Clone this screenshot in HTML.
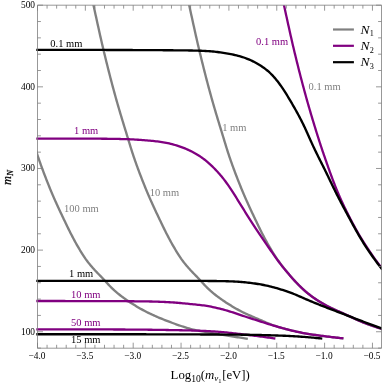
<!DOCTYPE html>
<html><head><meta charset="utf-8"><title>plot</title>
<style>html,body{margin:0;padding:0;background:#fff;}body{width:382px;height:384px;position:relative;overflow:hidden;font-family:"Liberation Serif",serif;}</style></head>
<body>
<svg width="382" height="384" viewBox="0 0 382 384" style="position:absolute;left:0;top:0;will-change:transform">
<defs><clipPath id="c"><rect x="36.30" y="5.20" width="346.00" height="343.00"/></clipPath></defs>
<defs><clipPath id="cg"><rect x="37.20" y="5.20" width="346.00" height="343.00"/></clipPath></defs>
<g fill="none" stroke-linecap="butt" stroke-linejoin="round">
<path clip-path="url(#cg)" d="M-5.60 -10.00 L-5.23 -8.33 L-4.90 -6.81 L-4.58 -5.37 L-4.27 -3.97 L-3.96 -2.56 L-3.64 -1.15 L-3.32 0.28 L-3.00 1.73 L-2.68 3.19 L-2.36 4.65 L-2.03 6.11 L-1.71 7.57 L-1.39 9.04 L-1.06 10.50 L-0.74 11.97 L-0.42 13.43 L-0.10 14.90 L0.22 16.37 L0.55 17.83 L0.87 19.30 L1.19 20.76 L1.51 22.23 L1.83 23.69 L2.16 25.16 L2.48 26.62 L2.80 28.09 L3.13 29.55 L3.45 31.02 L3.78 32.48 L4.11 33.94 L4.43 35.41 L4.76 36.87 L5.10 38.33 L5.43 39.80 L5.77 41.26 L6.10 42.72 L6.44 44.18 L6.78 45.64 L7.12 47.10 L7.47 48.56 L7.82 50.02 L8.16 51.48 L8.51 52.94 L8.87 54.39 L9.22 55.85 L9.57 57.31 L9.93 58.77 L10.29 60.22 L10.65 61.68 L11.01 63.14 L11.37 64.59 L11.74 66.05 L12.10 67.50 L12.47 68.96 L12.84 70.41 L13.21 71.87 L13.58 73.32 L13.95 74.77 L14.33 76.23 L14.70 77.68 L15.08 79.13 L15.46 80.58 L15.84 82.03 L16.23 83.48 L16.61 84.93 L17.00 86.38 L17.38 87.83 L17.78 89.28 L18.17 90.73 L18.56 92.17 L18.96 93.62 L19.36 95.06 L19.76 96.51 L20.16 97.95 L20.56 99.40 L20.97 100.84 L21.38 102.28 L21.80 103.72 L22.21 105.16 L22.63 106.60 L23.05 108.04 L23.48 109.48 L23.90 110.92 L24.33 112.36 L24.76 113.80 L25.19 115.23 L25.62 116.67 L26.05 118.11 L26.49 119.54 L26.92 120.98 L27.36 122.41 L27.80 123.85 L28.24 125.28 L28.67 126.72 L29.11 128.15 L29.55 129.59 L29.99 131.02 L30.43 132.46 L30.87 133.89 L31.31 135.33 L31.75 136.76 L32.19 138.20 L32.63 139.63 L33.06 141.07 L33.50 142.50 L33.94 143.94 L34.38 145.37 L34.82 146.80 L35.27 148.24 L35.71 149.67 L36.17 151.10 L36.63 152.52 L37.09 153.95 L37.56 155.37 L38.04 156.79 L38.52 158.21 L39.01 159.63 L39.51 161.05 L40.00 162.46 L40.51 163.87 L41.01 165.29 L41.53 166.70 L42.04 168.11 L42.56 169.51 L43.09 170.92 L43.61 172.33 L44.14 173.73 L44.68 175.13 L45.22 176.53 L45.76 177.93 L46.30 179.33 L46.85 180.73 L47.41 182.13 L47.96 183.52 L48.52 184.91 L49.08 186.30 L49.65 187.69 L50.22 189.08 L50.79 190.46 L51.37 191.85 L51.95 193.23 L52.53 194.61 L53.13 195.98 L53.72 197.36 L54.32 198.73 L54.93 200.11 L55.54 201.47 L56.16 202.84 L56.78 204.21 L57.40 205.57 L58.03 206.94 L58.66 208.30 L59.30 209.66 L59.93 211.02 L60.57 212.38 L61.21 213.73 L61.85 215.09 L62.49 216.45 L63.14 217.80 L63.78 219.16 L64.43 220.51 L65.07 221.87 L65.72 223.22 L66.37 224.57 L67.03 225.93 L67.68 227.28 L68.34 228.63 L69.01 229.97 L69.68 231.32 L70.35 232.66 L71.03 233.99 L71.72 235.33 L72.41 236.66 L73.11 237.98 L73.81 239.30 L74.53 240.62 L75.25 241.94 L75.98 243.25 L76.71 244.55 L77.46 245.86 L78.21 247.16 L78.97 248.46 L79.73 249.75 L80.51 251.04 L81.30 252.32 L82.09 253.60 L82.90 254.86 L83.72 256.12 L84.56 257.36 L85.40 258.60 L86.27 259.82 L87.15 261.02 L88.05 262.22 L88.97 263.39 L89.91 264.56 L90.87 265.71 L91.84 266.84 L92.83 267.97 L93.84 269.08 L94.85 270.19 L95.88 271.28 L96.92 272.37 L97.96 273.45 L99.00 274.53 L100.05 275.60 L101.10 276.68 L102.14 277.76 L103.18 278.84 L104.20 279.93 L105.23 281.03 L106.24 282.13 L107.25 283.24 L108.27 284.34 L109.29 285.44 L110.32 286.52 L111.37 287.59 L112.43 288.63 L113.52 289.66 L114.62 290.67 L115.75 291.66 L116.89 292.63 L118.05 293.58 L119.22 294.52 L120.41 295.45 L121.60 296.36 L122.81 297.25 L124.02 298.14 L125.24 299.01 L126.47 299.88 L127.71 300.73 L128.95 301.57 L130.19 302.40 L131.45 303.22 L132.71 304.03 L133.98 304.83 L135.26 305.62 L136.55 306.40 L137.84 307.17 L139.14 307.93 L140.44 308.67 L141.75 309.40 L143.07 310.12 L144.39 310.82 L145.72 311.51 L147.05 312.19 L148.40 312.86 L149.74 313.51 L151.10 314.15 L152.46 314.78 L153.82 315.41 L155.19 316.02 L156.57 316.62 L157.95 317.21 L159.33 317.80 L160.72 318.38 L162.11 318.95 L163.50 319.51 L164.89 320.07 L166.29 320.61 L167.69 321.16 L169.09 321.69 L170.49 322.22 L171.90 322.75 L173.30 323.26 L174.71 323.77 L176.13 324.28 L177.54 324.78 L178.96 325.27 L180.38 325.76 L181.80 326.24 L183.22 326.71 L184.65 327.18 L186.08 327.64 L187.51 328.08 L188.95 328.50 L190.39 328.91 L191.83 329.29 L193.28 329.65 L194.74 329.99 L196.20 330.30 L197.67 330.60 L199.14 330.88 L200.61 331.16 L202.09 331.41 L203.57 331.67 L205.05 331.91 L206.53 332.15 L208.02 332.39 L209.50 332.62 L210.99 332.85 L212.47 333.09 L213.95 333.32 L215.44 333.56 L216.92 333.80 L218.40 334.05 L219.88 334.29 L221.36 334.53 L222.84 334.78 L224.32 335.03 L225.80 335.27 L227.28 335.52 L228.76 335.77 L230.24 336.01 L231.72 336.26 L233.20 336.50 L234.68 336.74 L236.15 336.99 L237.62 337.23 L239.07 337.46 L240.50 337.70 L241.92 337.93 L243.33 338.16 L244.75 338.39 L246.22 338.63 L247.82 338.89" stroke="#808080" stroke-width="2.35"/>
<path clip-path="url(#cg)" d="M90.10 -10.00 L90.47 -8.33 L90.80 -6.81 L91.12 -5.37 L91.43 -3.97 L91.74 -2.56 L92.06 -1.15 L92.38 0.28 L92.70 1.73 L93.02 3.19 L93.34 4.65 L93.67 6.11 L93.99 7.57 L94.31 9.04 L94.64 10.50 L94.96 11.97 L95.28 13.43 L95.60 14.90 L95.92 16.37 L96.25 17.83 L96.57 19.30 L96.89 20.76 L97.21 22.23 L97.53 23.69 L97.86 25.16 L98.18 26.62 L98.50 28.09 L98.83 29.55 L99.15 31.02 L99.48 32.48 L99.81 33.94 L100.13 35.41 L100.46 36.87 L100.80 38.33 L101.13 39.80 L101.47 41.26 L101.80 42.72 L102.14 44.18 L102.48 45.64 L102.82 47.10 L103.17 48.56 L103.52 50.02 L103.86 51.48 L104.21 52.94 L104.57 54.39 L104.92 55.85 L105.27 57.31 L105.63 58.77 L105.99 60.22 L106.35 61.68 L106.71 63.14 L107.07 64.59 L107.44 66.05 L107.80 67.50 L108.17 68.96 L108.54 70.41 L108.91 71.87 L109.28 73.32 L109.65 74.77 L110.03 76.23 L110.40 77.68 L110.78 79.13 L111.16 80.58 L111.54 82.03 L111.93 83.48 L112.31 84.93 L112.70 86.38 L113.08 87.83 L113.48 89.28 L113.87 90.73 L114.26 92.17 L114.66 93.62 L115.06 95.06 L115.46 96.51 L115.86 97.95 L116.26 99.40 L116.67 100.84 L117.08 102.28 L117.50 103.72 L117.91 105.16 L118.33 106.60 L118.75 108.04 L119.18 109.48 L119.60 110.92 L120.03 112.36 L120.46 113.80 L120.89 115.23 L121.32 116.67 L121.75 118.11 L122.19 119.54 L122.62 120.98 L123.06 122.41 L123.50 123.85 L123.94 125.28 L124.37 126.72 L124.81 128.15 L125.25 129.59 L125.69 131.02 L126.13 132.46 L126.57 133.89 L127.01 135.33 L127.45 136.76 L127.89 138.20 L128.33 139.63 L128.76 141.07 L129.20 142.50 L129.64 143.94 L130.08 145.37 L130.52 146.80 L130.97 148.24 L131.41 149.67 L131.87 151.10 L132.33 152.52 L132.79 153.95 L133.26 155.37 L133.74 156.79 L134.22 158.21 L134.71 159.63 L135.21 161.05 L135.70 162.46 L136.21 163.87 L136.71 165.29 L137.23 166.70 L137.74 168.11 L138.26 169.51 L138.79 170.92 L139.31 172.33 L139.84 173.73 L140.38 175.13 L140.92 176.53 L141.46 177.93 L142.00 179.33 L142.55 180.73 L143.11 182.13 L143.66 183.52 L144.22 184.91 L144.78 186.30 L145.35 187.69 L145.92 189.08 L146.49 190.46 L147.07 191.85 L147.65 193.23 L148.23 194.61 L148.83 195.98 L149.42 197.36 L150.02 198.73 L150.63 200.11 L151.24 201.47 L151.86 202.84 L152.48 204.21 L153.10 205.57 L153.73 206.94 L154.36 208.30 L155.00 209.66 L155.63 211.02 L156.27 212.38 L156.91 213.73 L157.55 215.09 L158.19 216.45 L158.84 217.80 L159.48 219.16 L160.13 220.51 L160.77 221.87 L161.42 223.22 L162.07 224.57 L162.73 225.93 L163.38 227.28 L164.04 228.63 L164.71 229.97 L165.38 231.32 L166.05 232.66 L166.73 233.99 L167.42 235.33 L168.11 236.66 L168.81 237.98 L169.51 239.30 L170.23 240.62 L170.95 241.94 L171.68 243.25 L172.41 244.55 L173.16 245.86 L173.91 247.16 L174.67 248.46 L175.43 249.75 L176.21 251.04 L177.00 252.32 L177.79 253.60 L178.60 254.86 L179.42 256.12 L180.26 257.36 L181.10 258.60 L181.97 259.82 L182.85 261.02 L183.75 262.22 L184.67 263.39 L185.61 264.56 L186.57 265.71 L187.54 266.84 L188.53 267.97 L189.54 269.08 L190.55 270.19 L191.58 271.28 L192.62 272.37 L193.66 273.45 L194.70 274.53 L195.75 275.60 L196.80 276.68 L197.84 277.76 L198.88 278.84 L199.90 279.93 L200.93 281.03 L201.94 282.13 L202.95 283.24 L203.97 284.34 L204.99 285.44 L206.02 286.52 L207.07 287.59 L208.13 288.63 L209.22 289.66 L210.32 290.67 L211.45 291.66 L212.59 292.63 L213.75 293.58 L214.92 294.52 L216.11 295.45 L217.30 296.36 L218.51 297.25 L219.72 298.14 L220.94 299.01 L222.17 299.88 L223.41 300.73 L224.65 301.57 L225.89 302.40 L227.15 303.22 L228.41 304.03 L229.68 304.83 L230.96 305.62 L232.25 306.40 L233.54 307.17 L234.84 307.92 L236.14 308.67 L237.45 309.40 L238.77 310.11 L240.09 310.81 L241.42 311.50 L242.76 312.18 L244.10 312.84 L245.45 313.48 L246.81 314.11 L248.17 314.74 L249.54 315.35 L250.92 315.95 L252.29 316.55 L253.67 317.14 L255.05 317.73 L256.44 318.32 L257.82 318.90 L259.20 319.49 L260.58 320.09 L261.96 320.68 L263.34 321.28 L264.72 321.88 L266.10 322.47 L267.48 323.06 L268.86 323.63 L270.25 324.19 L271.65 324.73 L273.05 325.24 L274.47 325.73 L275.89 326.20 L277.31 326.65 L278.75 327.09 L280.19 327.51 L281.63 327.91 L283.08 328.31 L284.53 328.70 L285.98 329.08 L287.44 329.45 L288.89 329.82 L290.35 330.19 L291.80 330.54 L293.26 330.89 L294.72 331.23 L296.19 331.56 L297.65 331.88 L299.12 332.19 L300.59 332.49 L302.06 332.79 L303.53 333.07 L305.01 333.34 L306.48 333.60 L307.96 333.86 L309.44 334.10 L310.92 334.34 L312.40 334.56 L313.89 334.78 L315.37 335.00 L316.86 335.20 L318.34 335.41 L319.83 335.60 L321.32 335.80 L322.81 335.99 L324.29 336.18 L325.78 336.36 L327.27 336.55 L328.76 336.73 L330.25 336.90 L331.73 337.08 L333.21 337.25 L334.67 337.42 L336.12 337.59 L337.56 337.75 L338.98 337.91 L340.42 338.07 L341.90 338.23 L343.50 338.40" stroke="#808080" stroke-width="2.35"/>
<path clip-path="url(#cg)" d="M185.80 -10.00 L186.17 -8.33 L186.50 -6.81 L186.82 -5.37 L187.13 -3.97 L187.44 -2.56 L187.76 -1.15 L188.08 0.28 L188.40 1.73 L188.72 3.19 L189.04 4.65 L189.37 6.11 L189.69 7.57 L190.01 9.04 L190.34 10.50 L190.66 11.97 L190.98 13.43 L191.30 14.90 L191.62 16.37 L191.95 17.83 L192.27 19.30 L192.59 20.76 L192.91 22.23 L193.23 23.69 L193.56 25.16 L193.88 26.62 L194.20 28.09 L194.53 29.55 L194.85 31.02 L195.18 32.48 L195.51 33.94 L195.83 35.41 L196.16 36.87 L196.50 38.33 L196.83 39.80 L197.17 41.26 L197.50 42.72 L197.84 44.18 L198.18 45.64 L198.52 47.10 L198.87 48.56 L199.22 50.02 L199.56 51.48 L199.91 52.94 L200.27 54.39 L200.62 55.85 L200.97 57.31 L201.33 58.77 L201.69 60.22 L202.05 61.68 L202.41 63.14 L202.77 64.59 L203.14 66.05 L203.50 67.50 L203.87 68.96 L204.24 70.41 L204.61 71.87 L204.98 73.32 L205.35 74.77 L205.73 76.23 L206.10 77.68 L206.48 79.13 L206.86 80.58 L207.24 82.03 L207.63 83.48 L208.01 84.93 L208.40 86.38 L208.78 87.83 L209.18 89.28 L209.57 90.73 L209.96 92.17 L210.36 93.62 L210.76 95.06 L211.16 96.51 L211.56 97.95 L211.96 99.40 L212.37 100.84 L212.78 102.28 L213.20 103.72 L213.61 105.16 L214.03 106.60 L214.45 108.04 L214.88 109.48 L215.30 110.92 L215.73 112.36 L216.16 113.80 L216.59 115.23 L217.02 116.67 L217.45 118.11 L217.89 119.54 L218.32 120.98 L218.76 122.41 L219.20 123.85 L219.64 125.28 L220.07 126.72 L220.51 128.15 L220.95 129.59 L221.39 131.02 L221.83 132.46 L222.27 133.89 L222.71 135.33 L223.15 136.76 L223.59 138.20 L224.03 139.63 L224.46 141.07 L224.90 142.50 L225.34 143.94 L225.78 145.37 L226.22 146.80 L226.67 148.24 L227.11 149.67 L227.57 151.10 L228.03 152.52 L228.49 153.95 L228.96 155.37 L229.44 156.79 L229.92 158.21 L230.41 159.63 L230.91 161.05 L231.40 162.46 L231.91 163.87 L232.41 165.29 L232.93 166.70 L233.44 168.11 L233.96 169.51 L234.49 170.92 L235.01 172.33 L235.54 173.73 L236.08 175.13 L236.62 176.53 L237.16 177.93 L237.70 179.33 L238.25 180.73 L238.81 182.13 L239.36 183.52 L239.92 184.91 L240.48 186.30 L241.05 187.69 L241.62 189.08 L242.19 190.46 L242.77 191.85 L243.35 193.23 L243.93 194.61 L244.53 195.98 L245.12 197.36 L245.72 198.73 L246.33 200.11 L246.94 201.47 L247.56 202.84 L248.18 204.21 L248.80 205.57 L249.43 206.94 L250.06 208.30 L250.70 209.66 L251.33 211.02 L251.97 212.38 L252.61 213.73 L253.25 215.09 L253.89 216.45 L254.54 217.80 L255.18 219.16 L255.83 220.51 L256.47 221.87 L257.12 223.22 L257.77 224.57 L258.43 225.93 L259.08 227.28 L259.74 228.63 L260.41 229.97 L261.08 231.32 L261.75 232.66 L262.43 233.99 L263.12 235.33 L263.81 236.66 L264.51 237.98 L265.22 239.30 L265.93 240.62 L266.65 241.93 L267.39 243.24 L268.13 244.54 L268.87 245.84 L269.63 247.14 L270.40 248.43 L271.17 249.71 L271.95 251.00 L272.74 252.27 L273.54 253.55 L274.35 254.81 L275.17 256.07 L275.99 257.32 L276.83 258.57 L277.68 259.80 L278.54 261.03 L279.41 262.25 L280.29 263.46 L281.19 264.66 L282.09 265.85 L283.01 267.03 L283.95 268.21 L284.88 269.38 L285.83 270.54 L286.78 271.70 L287.74 272.86 L288.71 274.01 L289.68 275.15 L290.65 276.29 L291.64 277.43 L292.63 278.55 L293.63 279.67 L294.64 280.78 L295.66 281.87 L296.70 282.96 L297.74 284.04 L298.80 285.11 L299.86 286.17 L300.94 287.21 L302.03 288.25 L303.13 289.27 L304.24 290.27 L305.37 291.26 L306.50 292.24 L307.66 293.19 L308.82 294.13 L310.00 295.05 L311.19 295.96 L312.40 296.84 L313.62 297.72 L314.85 298.57 L316.10 299.41 L317.35 300.23 L318.62 301.04 L319.89 301.83 L321.18 302.60 L322.47 303.36 L323.77 304.10 L325.08 304.83 L326.40 305.54 L327.73 306.24 L329.06 306.93 L330.40 307.60 L331.75 308.26 L333.10 308.91 L334.46 309.54 L335.83 310.17 L337.19 310.79 L338.56 311.40 L339.94 312.00 L341.31 312.60 L342.68 313.20 L344.06 313.81 L345.43 314.42 L346.79 315.04 L348.16 315.67 L349.52 316.31 L350.87 316.95 L352.23 317.59 L353.59 318.22 L354.95 318.86 L356.31 319.48 L357.68 320.09 L359.05 320.69 L360.43 321.28 L361.81 321.85 L363.20 322.41 L364.59 322.96 L365.99 323.50 L367.39 324.03 L368.79 324.54 L370.20 325.05 L371.61 325.55 L373.01 326.03 L374.39 326.50 L375.77 326.97 L377.14 327.42 L378.51 327.86 L379.92 328.30 L381.42 328.75 L383.00 329.20" stroke="#808080" stroke-width="2.35"/>
<path clip-path="url(#c)" d="M280.60 -10.00 L280.97 -8.33 L281.30 -6.81 L281.62 -5.37 L281.93 -3.97 L282.24 -2.56 L282.56 -1.15 L282.88 0.28 L283.20 1.73 L283.52 3.19 L283.84 4.65 L284.17 6.11 L284.49 7.57 L284.81 9.04 L285.14 10.50 L285.46 11.97 L285.78 13.43 L286.10 14.90 L286.42 16.37 L286.75 17.83 L287.07 19.30 L287.39 20.76 L287.71 22.23 L288.03 23.69 L288.36 25.16 L288.68 26.62 L289.00 28.09 L289.33 29.55 L289.65 31.02 L289.98 32.48 L290.31 33.94 L290.63 35.41 L290.96 36.87 L291.30 38.33 L291.63 39.80 L291.97 41.26 L292.30 42.72 L292.64 44.18 L292.98 45.64 L293.32 47.10 L293.67 48.56 L294.02 50.02 L294.36 51.48 L294.71 52.94 L295.07 54.39 L295.42 55.85 L295.77 57.31 L296.13 58.77 L296.49 60.22 L296.85 61.68 L297.21 63.14 L297.57 64.59 L297.94 66.05 L298.30 67.50 L298.67 68.96 L299.04 70.41 L299.41 71.87 L299.78 73.32 L300.15 74.77 L300.53 76.23 L300.90 77.68 L301.28 79.13 L301.66 80.58 L302.04 82.03 L302.43 83.48 L302.81 84.93 L303.20 86.38 L303.58 87.83 L303.98 89.28 L304.37 90.73 L304.76 92.17 L305.16 93.62 L305.55 95.06 L305.95 96.51 L306.36 97.95 L306.76 99.40 L307.17 100.84 L307.57 102.29 L307.98 103.73 L308.40 105.17 L308.81 106.61 L309.23 108.05 L309.65 109.49 L310.07 110.93 L310.49 112.37 L310.91 113.81 L311.34 115.25 L311.77 116.69 L312.20 118.12 L312.63 119.56 L313.07 121.00 L313.50 122.43 L313.94 123.87 L314.38 125.30 L314.82 126.74 L315.26 128.17 L315.70 129.61 L316.15 131.04 L316.59 132.47 L317.04 133.90 L317.49 135.33 L317.94 136.76 L318.39 138.19 L318.85 139.62 L319.31 141.05 L319.77 142.48 L320.23 143.90 L320.70 145.33 L321.17 146.76 L321.64 148.18 L322.12 149.60 L322.60 151.02 L323.08 152.44 L323.56 153.86 L324.05 155.28 L324.54 156.70 L325.03 158.12 L325.52 159.54 L326.01 160.95 L326.51 162.37 L327.00 163.79 L327.50 165.21 L328.00 166.62 L328.50 168.04 L329.01 169.45 L329.51 170.86 L330.02 172.28 L330.54 173.69 L331.05 175.10 L331.57 176.51 L332.09 177.91 L332.62 179.32 L333.15 180.72 L333.69 182.12 L334.23 183.52 L334.77 184.92 L335.32 186.31 L335.88 187.70 L336.44 189.09 L337.01 190.47 L337.59 191.86 L338.17 193.24 L338.76 194.61 L339.35 195.99 L339.95 197.36 L340.56 198.73 L341.18 200.10 L341.80 201.46 L342.43 202.83 L343.07 204.19 L343.71 205.54 L344.36 206.90 L345.01 208.25 L345.67 209.60 L346.33 210.95 L347.00 212.29 L347.67 213.63 L348.35 214.97 L349.03 216.31 L349.71 217.64 L350.40 218.97 L351.09 220.30 L351.79 221.63 L352.50 222.96 L353.21 224.28 L353.92 225.60 L354.64 226.91 L355.37 228.23 L356.10 229.54 L356.84 230.85 L357.58 232.15 L358.33 233.45 L359.09 234.75 L359.85 236.04 L360.62 237.33 L361.39 238.61 L362.17 239.89 L362.96 241.17 L363.75 242.44 L364.55 243.70 L365.36 244.97 L366.17 246.23 L366.99 247.48 L367.82 248.73 L368.66 249.98 L369.50 251.23 L370.34 252.47 L371.19 253.70 L372.05 254.93 L372.91 256.16 L373.78 257.38 L374.65 258.60 L375.53 259.81 L376.41 261.01 L377.29 262.20 L378.16 263.37 L379.02 264.53 L379.89 265.67 L380.76 266.81 L381.66 267.97 L382.63 269.20 L383.50 270.30" stroke="#800080" stroke-width="2.3"/>
<path clip-path="url(#c)" d="M36.00 138.70 L37.71 138.70 L39.27 138.70 L40.74 138.70 L42.18 138.70 L43.61 138.70 L45.07 138.70 L46.53 138.70 L48.01 138.70 L49.51 138.70 L51.00 138.70 L52.50 138.70 L54.00 138.70 L55.50 138.70 L57.00 138.70 L58.50 138.70 L60.00 138.70 L61.50 138.70 L63.00 138.70 L64.50 138.70 L66.00 138.70 L67.50 138.70 L69.00 138.70 L70.50 138.70 L72.00 138.70 L73.50 138.70 L75.00 138.70 L76.50 138.70 L78.00 138.70 L79.50 138.70 L81.00 138.70 L82.50 138.70 L84.00 138.70 L85.50 138.70 L87.00 138.70 L88.50 138.70 L90.00 138.70 L91.50 138.70 L93.00 138.70 L94.50 138.70 L96.00 138.71 L97.50 138.71 L99.00 138.72 L100.50 138.72 L102.00 138.73 L103.50 138.74 L105.00 138.76 L106.50 138.77 L108.00 138.79 L109.50 138.81 L111.00 138.83 L112.50 138.85 L114.00 138.88 L115.50 138.91 L117.00 138.94 L118.50 138.97 L120.00 139.00 L121.50 139.03 L123.00 139.07 L124.50 139.11 L126.00 139.15 L127.50 139.20 L128.99 139.25 L130.49 139.31 L131.99 139.38 L133.49 139.46 L134.98 139.54 L136.48 139.63 L137.98 139.73 L139.47 139.84 L140.97 139.96 L142.47 140.07 L143.96 140.19 L145.46 140.32 L146.95 140.44 L148.45 140.57 L149.94 140.70 L151.44 140.83 L152.93 140.97 L154.43 141.11 L155.92 141.27 L157.41 141.44 L158.89 141.62 L160.38 141.82 L161.86 142.05 L163.34 142.29 L164.81 142.56 L166.28 142.85 L167.75 143.16 L169.21 143.49 L170.67 143.84 L172.12 144.20 L173.57 144.59 L175.02 144.99 L176.46 145.42 L177.89 145.86 L179.31 146.33 L180.73 146.81 L182.14 147.33 L183.54 147.86 L184.93 148.42 L186.31 149.00 L187.68 149.61 L189.04 150.23 L190.39 150.88 L191.73 151.56 L193.06 152.25 L194.38 152.96 L195.69 153.70 L196.98 154.46 L198.26 155.24 L199.52 156.05 L200.76 156.88 L201.99 157.73 L203.20 158.61 L204.39 159.52 L205.57 160.44 L206.72 161.40 L207.87 162.37 L208.99 163.36 L210.10 164.37 L211.20 165.39 L212.29 166.43 L213.36 167.48 L214.42 168.54 L215.46 169.62 L216.50 170.70 L217.52 171.80 L218.53 172.91 L219.52 174.04 L220.50 175.17 L221.46 176.32 L222.41 177.48 L223.35 178.65 L224.27 179.84 L225.17 181.03 L226.06 182.24 L226.94 183.45 L227.80 184.68 L228.66 185.91 L229.50 187.15 L230.34 188.39 L231.17 189.64 L231.99 190.90 L232.81 192.16 L233.62 193.42 L234.42 194.68 L235.22 195.95 L236.02 197.23 L236.81 198.50 L237.60 199.77 L238.39 201.05 L239.18 202.33 L239.97 203.60 L240.76 204.88 L241.55 206.15 L242.34 207.43 L243.13 208.70 L243.93 209.98 L244.72 211.25 L245.51 212.52 L246.31 213.79 L247.10 215.07 L247.90 216.34 L248.70 217.61 L249.50 218.88 L250.30 220.15 L251.10 221.41 L251.91 222.68 L252.72 223.94 L253.53 225.20 L254.35 226.46 L255.17 227.71 L256.00 228.96 L256.83 230.21 L257.67 231.45 L258.51 232.69 L259.35 233.93 L260.20 235.17 L261.05 236.41 L261.90 237.64 L262.75 238.88 L263.61 240.11 L264.46 241.35 L265.31 242.58 L266.17 243.81 L267.02 245.05 L267.87 246.29 L268.72 247.52 L269.57 248.76 L270.42 250.00 L271.27 251.24 L272.12 252.47 L272.97 253.71 L273.83 254.94 L274.69 256.17 L275.56 257.39 L276.43 258.61 L277.32 259.82 L278.21 261.02 L279.11 262.22 L280.02 263.41 L280.94 264.59 L281.87 265.77 L282.81 266.94 L283.75 268.10 L284.71 269.26 L285.67 270.41 L286.63 271.56 L287.60 272.71 L288.57 273.86 L289.54 275.00 L290.52 276.14 L291.50 277.27 L292.49 278.40 L293.49 279.51 L294.50 280.62 L295.52 281.72 L296.55 282.81 L297.60 283.89 L298.65 284.96 L299.71 286.02 L300.79 287.07 L301.88 288.10 L302.98 289.13 L304.09 290.13 L305.21 291.13 L306.35 292.10 L307.49 293.06 L308.66 294.00 L309.83 294.92 L311.03 295.83 L312.23 296.72 L313.45 297.60 L314.68 298.45 L315.92 299.29 L317.18 300.12 L318.44 300.93 L319.71 301.72 L321.00 302.50 L322.29 303.26 L323.59 304.00 L324.90 304.73 L326.22 305.45 L327.54 306.15 L328.88 306.83 L330.22 307.51 L331.56 308.17 L332.92 308.82 L334.27 309.46 L335.64 310.08 L337.00 310.70 L338.37 311.31 L339.75 311.92 L341.12 312.52 L342.49 313.12 L343.87 313.73 L345.24 314.34 L346.60 314.96 L347.97 315.59 L349.33 316.22 L350.69 316.86 L352.04 317.50 L353.40 318.14 L354.76 318.77 L356.12 319.39 L357.49 320.01 L358.86 320.61 L360.24 321.20 L361.62 321.77 L363.00 322.33 L364.40 322.88 L365.79 323.42 L367.19 323.95 L368.60 324.47 L370.00 324.98 L371.41 325.48 L372.81 325.96 L374.20 326.44 L375.57 326.90 L376.94 327.35 L378.30 327.79 L379.69 328.23 L381.16 328.67 L382.77 329.13" stroke="#800080" stroke-width="2.3"/>
<path clip-path="url(#c)" d="M36.00 301.00 L37.71 301.00 L39.27 301.00 L40.74 301.00 L42.18 301.00 L43.62 301.00 L45.07 301.00 L46.53 301.00 L48.01 301.01 L49.51 301.01 L51.00 301.01 L52.50 301.01 L54.00 301.01 L55.50 301.01 L57.00 301.01 L58.50 301.02 L60.00 301.02 L61.50 301.02 L63.00 301.02 L64.50 301.02 L66.00 301.03 L67.50 301.03 L69.00 301.03 L70.50 301.03 L72.00 301.04 L73.50 301.04 L75.00 301.04 L76.50 301.05 L78.00 301.05 L79.50 301.05 L81.00 301.05 L82.50 301.06 L84.00 301.06 L85.50 301.06 L87.00 301.07 L88.50 301.07 L90.00 301.08 L91.50 301.08 L93.00 301.08 L94.50 301.09 L96.00 301.09 L97.50 301.09 L99.00 301.10 L100.50 301.10 L102.00 301.11 L103.50 301.11 L105.00 301.12 L106.50 301.12 L108.00 301.13 L109.50 301.13 L111.00 301.14 L112.50 301.14 L114.00 301.15 L115.50 301.16 L117.00 301.16 L118.50 301.17 L120.00 301.18 L121.50 301.19 L123.00 301.20 L124.50 301.21 L126.00 301.22 L127.50 301.23 L129.00 301.24 L130.50 301.25 L132.00 301.26 L133.50 301.27 L135.00 301.29 L136.50 301.30 L138.00 301.32 L139.50 301.33 L141.00 301.35 L142.50 301.36 L144.00 301.38 L145.50 301.40 L147.00 301.43 L148.50 301.45 L150.00 301.48 L151.50 301.52 L153.00 301.56 L154.50 301.60 L156.00 301.64 L157.50 301.69 L159.00 301.75 L160.50 301.81 L161.99 301.87 L163.49 301.93 L164.99 302.00 L166.49 302.07 L167.99 302.15 L169.48 302.23 L170.98 302.32 L172.48 302.41 L173.97 302.51 L175.47 302.62 L176.96 302.74 L178.46 302.86 L179.95 302.99 L181.45 303.13 L182.94 303.28 L184.43 303.42 L185.93 303.57 L187.42 303.72 L188.91 303.87 L190.41 304.02 L191.90 304.17 L193.39 304.32 L194.89 304.47 L196.38 304.62 L197.87 304.78 L199.36 304.94 L200.85 305.11 L202.34 305.29 L203.83 305.48 L205.31 305.69 L206.79 305.93 L208.27 306.18 L209.74 306.45 L211.21 306.74 L212.68 307.04 L214.14 307.36 L215.61 307.69 L217.07 308.02 L218.53 308.37 L219.99 308.72 L221.44 309.08 L222.89 309.46 L224.34 309.85 L225.78 310.25 L227.22 310.67 L228.66 311.10 L230.09 311.55 L231.52 312.00 L232.94 312.46 L234.37 312.93 L235.79 313.41 L237.22 313.88 L238.64 314.36 L240.06 314.84 L241.48 315.32 L242.90 315.80 L244.32 316.28 L245.75 316.75 L247.17 317.22 L248.60 317.68 L250.03 318.14 L251.46 318.60 L252.89 319.05 L254.32 319.51 L255.74 319.96 L257.17 320.42 L258.60 320.88 L260.03 321.34 L261.46 321.80 L262.88 322.25 L264.31 322.71 L265.74 323.16 L267.18 323.61 L268.61 324.05 L270.04 324.49 L271.48 324.92 L272.92 325.36 L274.35 325.78 L275.79 326.21 L277.23 326.63 L278.67 327.04 L280.12 327.45 L281.56 327.86 L283.01 328.26 L284.45 328.65 L285.90 329.04 L287.35 329.42 L288.81 329.80 L290.26 330.16 L291.72 330.52 L293.18 330.87 L294.64 331.21 L296.10 331.54 L297.56 331.86 L299.03 332.18 L300.50 332.48 L301.97 332.77 L303.44 333.05 L304.92 333.32 L306.39 333.59 L307.87 333.84 L309.35 334.09 L310.83 334.32 L312.31 334.55 L313.80 334.77 L315.28 334.98 L316.77 335.19 L318.25 335.40 L319.74 335.59 L321.23 335.79 L322.72 335.98 L324.21 336.17 L325.69 336.35 L327.18 336.53 L328.67 336.72 L330.16 336.89 L331.64 337.07 L333.12 337.24 L334.59 337.41 L336.04 337.58 L337.47 337.74 L338.90 337.90 L340.34 338.06 L341.82 338.22 L343.41 338.39" stroke="#800080" stroke-width="2.3"/>
<path clip-path="url(#c)" d="M36.00 329.30 L37.71 329.30 L39.27 329.30 L40.74 329.30 L42.18 329.30 L43.62 329.30 L45.07 329.30 L46.53 329.30 L48.01 329.31 L49.51 329.31 L51.00 329.31 L52.50 329.31 L54.00 329.31 L55.50 329.31 L57.00 329.32 L58.50 329.32 L60.00 329.32 L61.50 329.32 L63.00 329.33 L64.50 329.33 L66.00 329.33 L67.50 329.33 L69.00 329.34 L70.50 329.34 L72.00 329.34 L73.50 329.35 L75.00 329.35 L76.50 329.35 L78.00 329.36 L79.50 329.36 L81.00 329.36 L82.50 329.37 L84.00 329.37 L85.50 329.38 L87.00 329.38 L88.50 329.39 L90.00 329.39 L91.50 329.40 L93.00 329.40 L94.50 329.41 L96.00 329.41 L97.50 329.42 L99.00 329.42 L100.50 329.43 L102.00 329.43 L103.50 329.44 L105.00 329.44 L106.50 329.45 L108.00 329.45 L109.50 329.46 L111.00 329.46 L112.50 329.47 L114.00 329.48 L115.50 329.48 L117.00 329.49 L118.50 329.50 L120.00 329.50 L121.50 329.51 L123.00 329.52 L124.50 329.52 L126.00 329.53 L127.50 329.54 L129.00 329.55 L130.50 329.56 L132.00 329.57 L133.50 329.59 L135.00 329.60 L136.50 329.61 L138.00 329.62 L139.50 329.64 L141.00 329.65 L142.50 329.67 L144.00 329.68 L145.50 329.70 L147.00 329.72 L148.50 329.74 L150.00 329.75 L151.50 329.77 L153.00 329.79 L154.50 329.81 L156.00 329.83 L157.50 329.85 L159.00 329.88 L160.50 329.90 L162.00 329.92 L163.50 329.95 L165.00 329.97 L166.50 329.99 L168.00 330.02 L169.50 330.05 L171.00 330.07 L172.50 330.10 L174.00 330.13 L175.50 330.16 L177.00 330.18 L178.50 330.21 L180.00 330.24 L181.50 330.27 L183.00 330.31 L184.50 330.34 L186.00 330.37 L187.50 330.40 L188.99 330.44 L190.49 330.47 L191.99 330.51 L193.49 330.55 L194.99 330.60 L196.49 330.64 L197.99 330.69 L199.49 330.74 L200.99 330.80 L202.49 330.86 L203.99 330.92 L205.49 330.99 L206.99 331.06 L208.48 331.14 L209.98 331.21 L211.48 331.30 L212.98 331.38 L214.47 331.47 L215.97 331.57 L217.46 331.67 L218.96 331.79 L220.45 331.90 L221.95 332.03 L223.44 332.17 L224.93 332.31 L226.42 332.46 L227.92 332.62 L229.41 332.78 L230.90 332.95 L232.39 333.12 L233.88 333.29 L235.37 333.47 L236.86 333.65 L238.35 333.83 L239.84 334.00 L241.33 334.18 L242.82 334.36 L244.31 334.54 L245.80 334.71 L247.29 334.89 L248.78 335.07 L250.27 335.25 L251.76 335.43 L253.25 335.61 L254.73 335.80 L256.22 335.98 L257.71 336.17 L259.20 336.35 L260.69 336.54 L262.17 336.73 L263.65 336.93 L265.13 337.12 L266.59 337.31 L268.03 337.50 L269.46 337.69 L270.87 337.88 L272.30 338.07 L273.79 338.27 L275.38 338.49" stroke="#800080" stroke-width="2.3"/>
<path clip-path="url(#c)" d="M36.00 49.80 L37.71 49.80 L39.27 49.80 L40.74 49.80 L42.18 49.80 L43.62 49.80 L45.07 49.80 L46.53 49.81 L48.01 49.81 L49.51 49.81 L51.00 49.81 L52.50 49.81 L54.00 49.81 L55.50 49.82 L57.00 49.82 L58.50 49.82 L60.00 49.82 L61.50 49.83 L63.00 49.83 L64.50 49.83 L66.00 49.83 L67.50 49.84 L69.00 49.84 L70.50 49.84 L72.00 49.85 L73.50 49.85 L75.00 49.86 L76.50 49.86 L78.00 49.86 L79.50 49.87 L81.00 49.87 L82.50 49.88 L84.00 49.88 L85.50 49.88 L87.00 49.89 L88.50 49.89 L90.00 49.90 L91.50 49.90 L93.00 49.91 L94.50 49.91 L96.00 49.92 L97.50 49.92 L99.00 49.93 L100.50 49.93 L102.00 49.94 L103.50 49.94 L105.00 49.95 L106.50 49.95 L108.00 49.96 L109.50 49.96 L111.00 49.97 L112.50 49.97 L114.00 49.98 L115.50 49.98 L117.00 49.99 L118.50 49.99 L120.00 50.00 L121.50 50.01 L123.00 50.01 L124.50 50.02 L126.00 50.02 L127.50 50.03 L129.00 50.03 L130.50 50.04 L132.00 50.04 L133.50 50.05 L135.00 50.06 L136.50 50.06 L138.00 50.07 L139.50 50.08 L141.00 50.08 L142.50 50.09 L144.00 50.10 L145.50 50.10 L147.00 50.11 L148.50 50.12 L150.00 50.13 L151.50 50.13 L153.00 50.14 L154.50 50.15 L156.00 50.16 L157.50 50.17 L159.00 50.18 L160.50 50.19 L162.00 50.20 L163.50 50.21 L165.00 50.22 L166.50 50.23 L168.00 50.25 L169.50 50.26 L171.00 50.27 L172.50 50.28 L174.00 50.30 L175.50 50.31 L177.00 50.33 L178.50 50.34 L180.00 50.36 L181.50 50.37 L183.00 50.39 L184.50 50.41 L186.00 50.43 L187.50 50.45 L189.00 50.47 L190.50 50.49 L192.00 50.52 L193.50 50.55 L195.00 50.59 L196.50 50.63 L198.00 50.67 L199.50 50.72 L201.00 50.78 L202.50 50.84 L203.99 50.91 L205.49 50.99 L206.99 51.07 L208.48 51.17 L209.98 51.28 L211.47 51.40 L212.96 51.54 L214.45 51.69 L215.94 51.85 L217.43 52.03 L218.92 52.23 L220.41 52.43 L221.89 52.65 L223.38 52.88 L224.86 53.11 L226.34 53.36 L227.82 53.61 L229.30 53.87 L230.77 54.14 L232.25 54.43 L233.72 54.73 L235.18 55.06 L236.64 55.40 L238.09 55.77 L239.53 56.16 L240.97 56.58 L242.40 57.03 L243.82 57.50 L245.23 58.01 L246.63 58.54 L248.02 59.10 L249.40 59.68 L250.77 60.29 L252.13 60.92 L253.48 61.58 L254.81 62.27 L256.13 62.98 L257.44 63.71 L258.73 64.47 L260.01 65.26 L261.27 66.07 L262.51 66.91 L263.74 67.77 L264.95 68.66 L266.13 69.57 L267.29 70.51 L268.43 71.48 L269.54 72.48 L270.62 73.50 L271.68 74.55 L272.71 75.63 L273.72 76.74 L274.71 77.86 L275.68 79.01 L276.63 80.17 L277.56 81.35 L278.48 82.55 L279.38 83.75 L280.26 84.96 L281.13 86.18 L281.98 87.41 L282.83 88.65 L283.66 89.90 L284.47 91.16 L285.28 92.43 L286.08 93.70 L286.87 94.97 L287.65 96.26 L288.43 97.54 L289.20 98.83 L289.97 100.12 L290.73 101.41 L291.49 102.71 L292.25 104.01 L293.00 105.30 L293.75 106.60 L294.50 107.91 L295.24 109.21 L295.98 110.52 L296.71 111.83 L297.43 113.14 L298.15 114.46 L298.86 115.78 L299.57 117.10 L300.26 118.43 L300.95 119.76 L301.63 121.10 L302.30 122.44 L302.96 123.78 L303.62 125.13 L304.26 126.48 L304.90 127.84 L305.53 129.20 L306.15 130.56 L306.77 131.93 L307.39 133.30 L308.00 134.67 L308.61 136.04 L309.22 137.41 L309.83 138.78 L310.45 140.15 L311.06 141.52 L311.68 142.89 L312.30 144.25 L312.93 145.62 L313.57 146.98 L314.21 148.33 L314.85 149.69 L315.50 151.04 L316.16 152.39 L316.82 153.73 L317.48 155.08 L318.15 156.42 L318.82 157.76 L319.49 159.11 L320.16 160.45 L320.84 161.79 L321.51 163.13 L322.19 164.47 L322.86 165.81 L323.53 167.15 L324.20 168.49 L324.86 169.84 L325.53 171.18 L326.19 172.53 L326.84 173.88 L327.50 175.23 L328.15 176.58 L328.80 177.93 L329.45 179.28 L330.10 180.64 L330.75 181.99 L331.40 183.34 L332.05 184.69 L332.70 186.04 L333.36 187.39 L334.02 188.74 L334.68 190.08 L335.34 191.43 L336.02 192.77 L336.69 194.11 L337.37 195.45 L338.05 196.78 L338.74 198.11 L339.42 199.45 L340.12 200.78 L340.81 202.11 L341.51 203.44 L342.21 204.76 L342.91 206.09 L343.61 207.42 L344.31 208.74 L345.02 210.06 L345.73 211.39 L346.44 212.71 L347.15 214.03 L347.86 215.35 L348.57 216.67 L349.28 217.99 L349.99 219.31 L350.71 220.63 L351.42 221.95 L352.14 223.27 L352.85 224.59 L353.57 225.91 L354.29 227.23 L355.02 228.54 L355.75 229.85 L356.48 231.16 L357.22 232.47 L357.96 233.77 L358.71 235.07 L359.47 236.36 L360.23 237.65 L361.00 238.94 L361.78 240.22 L362.57 241.49 L363.36 242.76 L364.16 244.03 L364.97 245.29 L365.79 246.55 L366.61 247.81 L367.44 249.06 L368.28 250.30 L369.12 251.55 L369.97 252.78 L370.82 254.02 L371.67 255.25 L372.54 256.48 L373.40 257.70 L374.28 258.92 L375.15 260.13 L376.03 261.33 L376.91 262.52 L377.78 263.69 L378.64 264.85 L379.51 266.00 L380.38 267.15 L381.30 268.33 L382.28 269.59" stroke="#000" stroke-width="2.35"/>
<path clip-path="url(#c)" d="M36.00 280.80 L37.71 280.80 L39.27 280.80 L40.74 280.80 L42.18 280.80 L43.61 280.80 L45.07 280.80 L46.53 280.80 L48.01 280.80 L49.51 280.80 L51.00 280.80 L52.50 280.80 L54.00 280.80 L55.50 280.80 L57.00 280.80 L58.50 280.80 L60.00 280.80 L61.50 280.80 L63.00 280.80 L64.50 280.80 L66.00 280.80 L67.50 280.80 L69.00 280.80 L70.50 280.80 L72.00 280.80 L73.50 280.80 L75.00 280.80 L76.50 280.80 L78.00 280.80 L79.50 280.80 L81.00 280.80 L82.50 280.80 L84.00 280.80 L85.50 280.80 L87.00 280.80 L88.50 280.80 L90.00 280.80 L91.50 280.80 L93.00 280.80 L94.50 280.80 L96.00 280.80 L97.50 280.80 L99.00 280.80 L100.50 280.80 L102.00 280.80 L103.50 280.80 L105.00 280.80 L106.50 280.80 L108.00 280.80 L109.50 280.80 L111.00 280.80 L112.50 280.80 L114.00 280.80 L115.50 280.80 L117.00 280.80 L118.50 280.80 L120.00 280.80 L121.50 280.80 L123.00 280.80 L124.50 280.80 L126.00 280.80 L127.50 280.80 L129.00 280.80 L130.50 280.80 L132.00 280.80 L133.50 280.80 L135.00 280.80 L136.50 280.80 L138.00 280.81 L139.50 280.81 L141.00 280.81 L142.50 280.81 L144.00 280.81 L145.50 280.81 L147.00 280.81 L148.50 280.81 L150.00 280.81 L151.50 280.82 L153.00 280.82 L154.50 280.82 L156.00 280.82 L157.50 280.82 L159.00 280.82 L160.50 280.83 L162.00 280.83 L163.50 280.83 L165.00 280.83 L166.50 280.83 L168.00 280.84 L169.50 280.84 L171.00 280.84 L172.50 280.84 L174.00 280.85 L175.50 280.85 L177.00 280.85 L178.50 280.85 L180.00 280.86 L181.50 280.86 L183.00 280.86 L184.50 280.86 L186.00 280.87 L187.50 280.87 L189.00 280.87 L190.50 280.88 L192.00 280.88 L193.50 280.88 L195.00 280.89 L196.50 280.89 L198.00 280.90 L199.50 280.90 L201.00 280.91 L202.50 280.91 L204.00 280.92 L205.50 280.93 L207.00 280.94 L208.50 280.95 L210.00 280.96 L211.50 280.98 L213.00 280.99 L214.50 281.01 L216.00 281.03 L217.50 281.05 L219.00 281.07 L220.50 281.09 L222.00 281.12 L223.50 281.15 L225.00 281.19 L226.50 281.23 L228.00 281.28 L229.50 281.33 L231.00 281.38 L232.50 281.45 L234.00 281.52 L235.49 281.59 L236.99 281.67 L238.49 281.76 L239.98 281.86 L241.48 281.98 L242.97 282.10 L244.46 282.24 L245.96 282.39 L247.45 282.55 L248.93 282.73 L250.42 282.91 L251.91 283.11 L253.40 283.31 L254.88 283.52 L256.37 283.74 L257.85 283.97 L259.33 284.20 L260.81 284.45 L262.28 284.72 L263.76 285.00 L265.23 285.30 L266.69 285.61 L268.15 285.95 L269.61 286.30 L271.06 286.66 L272.52 287.04 L273.96 287.43 L275.41 287.82 L276.85 288.23 L278.30 288.65 L279.73 289.08 L281.17 289.51 L282.60 289.96 L284.03 290.41 L285.45 290.88 L286.88 291.36 L288.29 291.85 L289.70 292.36 L291.11 292.88 L292.51 293.41 L293.90 293.97 L295.29 294.53 L296.67 295.11 L298.05 295.71 L299.42 296.31 L300.79 296.91 L302.16 297.52 L303.54 298.13 L304.91 298.73 L306.29 299.32 L307.67 299.91 L309.05 300.50 L310.43 301.08 L311.82 301.66 L313.20 302.23 L314.59 302.80 L315.98 303.36 L317.37 303.93 L318.76 304.49 L320.15 305.04 L321.55 305.60 L322.94 306.15 L324.34 306.70 L325.74 307.24 L327.13 307.79 L328.53 308.33 L329.93 308.87 L331.33 309.40 L332.74 309.94 L334.14 310.47 L335.54 311.01 L336.94 311.54 L338.34 312.07 L339.75 312.61 L341.15 313.14 L342.55 313.67 L343.95 314.21 L345.35 314.75 L346.75 315.28 L348.15 315.82 L349.55 316.36 L350.95 316.90 L352.35 317.44 L353.75 317.99 L355.15 318.53 L356.55 319.07 L357.95 319.61 L359.35 320.14 L360.75 320.68 L362.15 321.21 L363.55 321.74 L364.96 322.27 L366.36 322.79 L367.77 323.31 L369.18 323.83 L370.58 324.34 L371.98 324.86 L373.37 325.36 L374.74 325.86 L376.10 326.35 L377.45 326.83 L378.80 327.32 L380.19 327.81 L381.66 328.33 L383.00 328.80" stroke="#000" stroke-width="2.35"/>
<path clip-path="url(#c)" d="M36.00 334.20 L37.71 334.20 L39.27 334.20 L40.74 334.20 L42.18 334.20 L43.62 334.20 L45.07 334.20 L46.53 334.20 L48.01 334.20 L49.51 334.20 L51.00 334.20 L52.50 334.20 L54.00 334.20 L55.50 334.20 L57.00 334.20 L58.50 334.21 L60.00 334.21 L61.50 334.21 L63.00 334.21 L64.50 334.21 L66.00 334.21 L67.50 334.21 L69.00 334.21 L70.50 334.21 L72.00 334.21 L73.50 334.21 L75.00 334.21 L76.50 334.22 L78.00 334.22 L79.50 334.22 L81.00 334.22 L82.50 334.22 L84.00 334.22 L85.50 334.22 L87.00 334.22 L88.50 334.22 L90.00 334.23 L91.50 334.23 L93.00 334.23 L94.50 334.23 L96.00 334.23 L97.50 334.23 L99.00 334.23 L100.50 334.24 L102.00 334.24 L103.50 334.24 L105.00 334.24 L106.50 334.24 L108.00 334.24 L109.50 334.25 L111.00 334.25 L112.50 334.25 L114.00 334.25 L115.50 334.25 L117.00 334.25 L118.50 334.26 L120.00 334.26 L121.50 334.26 L123.00 334.26 L124.50 334.26 L126.00 334.27 L127.50 334.27 L129.00 334.27 L130.50 334.27 L132.00 334.27 L133.50 334.28 L135.00 334.28 L136.50 334.28 L138.00 334.28 L139.50 334.28 L141.00 334.29 L142.50 334.29 L144.00 334.29 L145.50 334.29 L147.00 334.30 L148.50 334.30 L150.00 334.30 L151.50 334.30 L153.00 334.31 L154.50 334.31 L156.00 334.31 L157.50 334.31 L159.00 334.32 L160.50 334.32 L162.00 334.32 L163.50 334.32 L165.00 334.33 L166.50 334.33 L168.00 334.33 L169.50 334.34 L171.00 334.34 L172.50 334.35 L174.00 334.35 L175.50 334.35 L177.00 334.36 L178.50 334.36 L180.00 334.37 L181.50 334.37 L183.00 334.38 L184.50 334.38 L186.00 334.39 L187.50 334.39 L189.00 334.40 L190.50 334.40 L192.00 334.41 L193.50 334.41 L195.00 334.42 L196.50 334.43 L198.00 334.43 L199.50 334.44 L201.00 334.45 L202.50 334.45 L204.00 334.46 L205.50 334.47 L207.00 334.47 L208.50 334.48 L210.00 334.49 L211.50 334.50 L213.00 334.50 L214.50 334.51 L216.00 334.52 L217.50 334.53 L219.00 334.54 L220.50 334.55 L222.00 334.56 L223.50 334.57 L225.00 334.58 L226.50 334.59 L228.00 334.60 L229.50 334.61 L231.00 334.62 L232.50 334.63 L234.00 334.64 L235.50 334.65 L237.00 334.66 L238.50 334.67 L240.00 334.69 L241.50 334.70 L243.00 334.71 L244.50 334.73 L246.00 334.75 L247.50 334.77 L249.00 334.79 L250.50 334.81 L252.00 334.83 L253.50 334.86 L255.00 334.89 L256.50 334.92 L258.00 334.95 L259.50 334.98 L261.00 335.02 L262.50 335.06 L264.00 335.09 L265.50 335.14 L267.00 335.18 L268.50 335.22 L270.00 335.27 L271.50 335.31 L273.00 335.36 L274.50 335.41 L276.00 335.46 L277.49 335.51 L278.99 335.56 L280.49 335.62 L281.99 335.67 L283.49 335.73 L284.99 335.79 L286.48 335.85 L287.98 335.92 L289.48 335.99 L290.98 336.06 L292.47 336.14 L293.97 336.22 L295.47 336.31 L296.96 336.40 L298.46 336.50 L299.96 336.60 L301.45 336.71 L302.95 336.82 L304.44 336.94 L305.94 337.05 L307.43 337.18 L308.93 337.30 L310.41 337.43 L311.89 337.57 L313.36 337.70 L314.81 337.83 L316.24 337.96 L317.67 338.10 L319.12 338.24 L320.64 338.39 L322.29 338.55" stroke="#000" stroke-width="2.35"/>
</g>
<path d="M37.50 5.20 H381.50 V348.20 H37.50 Z M37.50 348.20 v-5.50 M37.50 5.20 v5.50 M47.07 348.20 v-3.40 M47.07 5.20 v3.40 M56.64 348.20 v-3.40 M56.64 5.20 v3.40 M66.21 348.20 v-3.40 M66.21 5.20 v3.40 M75.78 348.20 v-3.40 M75.78 5.20 v3.40 M85.35 348.20 v-5.50 M85.35 5.20 v5.50 M94.92 348.20 v-3.40 M94.92 5.20 v3.40 M104.49 348.20 v-3.40 M104.49 5.20 v3.40 M114.06 348.20 v-3.40 M114.06 5.20 v3.40 M123.63 348.20 v-3.40 M123.63 5.20 v3.40 M133.20 348.20 v-5.50 M133.20 5.20 v5.50 M142.77 348.20 v-3.40 M142.77 5.20 v3.40 M152.34 348.20 v-3.40 M152.34 5.20 v3.40 M161.91 348.20 v-3.40 M161.91 5.20 v3.40 M171.48 348.20 v-3.40 M171.48 5.20 v3.40 M181.05 348.20 v-5.50 M181.05 5.20 v5.50 M190.62 348.20 v-3.40 M190.62 5.20 v3.40 M200.19 348.20 v-3.40 M200.19 5.20 v3.40 M209.76 348.20 v-3.40 M209.76 5.20 v3.40 M219.33 348.20 v-3.40 M219.33 5.20 v3.40 M228.90 348.20 v-5.50 M228.90 5.20 v5.50 M238.47 348.20 v-3.40 M238.47 5.20 v3.40 M248.04 348.20 v-3.40 M248.04 5.20 v3.40 M257.61 348.20 v-3.40 M257.61 5.20 v3.40 M267.18 348.20 v-3.40 M267.18 5.20 v3.40 M276.75 348.20 v-5.50 M276.75 5.20 v5.50 M286.32 348.20 v-3.40 M286.32 5.20 v3.40 M295.89 348.20 v-3.40 M295.89 5.20 v3.40 M305.46 348.20 v-3.40 M305.46 5.20 v3.40 M315.03 348.20 v-3.40 M315.03 5.20 v3.40 M324.60 348.20 v-5.50 M324.60 5.20 v5.50 M334.17 348.20 v-3.40 M334.17 5.20 v3.40 M343.74 348.20 v-3.40 M343.74 5.20 v3.40 M353.31 348.20 v-3.40 M353.31 5.20 v3.40 M362.88 348.20 v-3.40 M362.88 5.20 v3.40 M372.45 348.20 v-5.50 M372.45 5.20 v5.50 M37.50 348.09 h3.40 M381.50 348.09 h-3.40 M37.50 331.76 h5.50 M381.50 331.76 h-5.50 M37.50 315.43 h3.40 M381.50 315.43 h-3.40 M37.50 299.10 h3.40 M381.50 299.10 h-3.40 M37.50 282.78 h3.40 M381.50 282.78 h-3.40 M37.50 266.45 h3.40 M381.50 266.45 h-3.40 M37.50 250.12 h5.50 M381.50 250.12 h-5.50 M37.50 233.79 h3.40 M381.50 233.79 h-3.40 M37.50 217.46 h3.40 M381.50 217.46 h-3.40 M37.50 201.14 h3.40 M381.50 201.14 h-3.40 M37.50 184.81 h3.40 M381.50 184.81 h-3.40 M37.50 168.48 h5.50 M381.50 168.48 h-5.50 M37.50 152.15 h3.40 M381.50 152.15 h-3.40 M37.50 135.82 h3.40 M381.50 135.82 h-3.40 M37.50 119.50 h3.40 M381.50 119.50 h-3.40 M37.50 103.17 h3.40 M381.50 103.17 h-3.40 M37.50 86.84 h5.50 M381.50 86.84 h-5.50 M37.50 70.51 h3.40 M381.50 70.51 h-3.40 M37.50 54.18 h3.40 M381.50 54.18 h-3.40 M37.50 37.86 h3.40 M381.50 37.86 h-3.40 M37.50 21.53 h3.40 M381.50 21.53 h-3.40 M37.50 5.20 h5.50 M381.50 5.20 h-5.50" fill="none" stroke="#7d7d7d" stroke-width="0.8"/>
<path d="M333.0 29.5 H353.9" stroke="#808080" stroke-width="2.2" fill="none"/>
<path d="M333.0 45.8 H353.9" stroke="#800080" stroke-width="2.2" fill="none"/>
<path d="M333.0 62.2 H353.9" stroke="#000" stroke-width="2.2" fill="none"/>
<g font-family="Liberation Serif, serif" font-size="9.4" fill="#000" text-anchor="middle">
<text x="37.00" y="358.7">−4.0</text>
<text x="84.85" y="358.7">−3.5</text>
<text x="132.70" y="358.7">−3.0</text>
<text x="180.55" y="358.7">−2.5</text>
<text x="228.40" y="358.7">−2.0</text>
<text x="276.25" y="358.7">−1.5</text>
<text x="324.10" y="358.7">−1.0</text>
<text x="371.95" y="358.7">−0.5</text>
</g>
<g font-family="Liberation Serif, serif" font-size="9.4" fill="#000" text-anchor="end">
<text x="35.0" y="334.76">100</text>
<text x="35.0" y="253.12">200</text>
<text x="35.0" y="171.48">300</text>
<text x="35.0" y="89.84">400</text>
<text x="35.0" y="8.20">500</text>
</g>
<g font-family="Liberation Serif, serif" font-size="10.5">
<text x="50.3" y="47.0" fill="#000">0.1 mm</text>
<text x="74.0" y="134.4" fill="#800080">1 mm</text>
<text x="64.0" y="212.0" fill="#808080">100 mm</text>
<text x="69.0" y="277.4" fill="#000">1 mm</text>
<text x="71.0" y="297.5" fill="#800080">10 mm</text>
<text x="71.0" y="326.2" fill="#800080">50 mm</text>
<text x="71.0" y="342.8" fill="#000">15 mm</text>
<text x="149.7" y="195.5" fill="#808080">10 mm</text>
<text x="222.2" y="130.7" fill="#808080">1 mm</text>
<text x="256.0" y="44.6" fill="#800080">0.1 mm</text>
<text x="308.6" y="90.0" fill="#808080">0.1 mm</text>
</g>
<g font-family="Liberation Serif, serif" font-size="13.5" fill="#000">
<text x="360.5" y="33.5"><tspan font-style="italic">N</tspan><tspan font-size="8.2" dy="2.9" dx="0.3">1</tspan></text>
<text x="360.5" y="49.8"><tspan font-style="italic">N</tspan><tspan font-size="8.2" dy="2.9" dx="0.3">2</tspan></text>
<text x="360.5" y="66.1"><tspan font-style="italic">N</tspan><tspan font-size="8.2" dy="2.9" dx="0.3">3</tspan></text>
</g>
<text x="170.6" y="378.6" font-family="Liberation Serif, serif" font-size="12.8" fill="#000">Log<tspan font-size="9.6" dy="3.0">10</tspan><tspan dy="-3.0">(</tspan><tspan font-style="italic">m</tspan><tspan font-size="9" dy="2.4" font-style="italic">ν</tspan><tspan font-size="6.5" dy="1.6">1</tspan><tspan dy="-4.0" dx="0.6">[eV])</tspan></text>
<text transform="translate(10.7,185.0) rotate(-90)" font-family="Liberation Serif, serif" font-size="12.5" fill="#000" stroke="#000" stroke-width="0.25"><tspan font-style="italic">m</tspan><tspan font-size="9" dy="2.0" font-style="italic">N</tspan></text>
</svg>
</body></html>
